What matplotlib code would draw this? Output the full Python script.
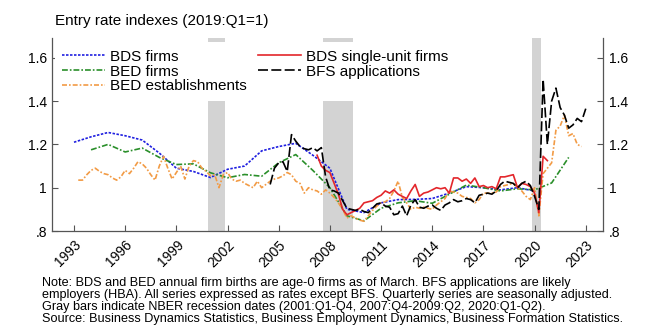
import matplotlib
matplotlib.use("Agg")
import matplotlib.pyplot as plt

plt.rcParams["font.family"] = ["Liberation Sans", "DejaVu Sans"]

# Annual series (index, 2019 = 1)
bds_years = list(range(1993, 2021))
bds_firms = [1.21, 1.235, 1.255, 1.24, 1.22, 1.16, 1.09, 1.075, 1.047, 1.085,
             1.10, 1.17, 1.19, 1.205, 1.15, 1.09, 0.90, 0.885, 0.93, 0.945,
             0.946, 0.95, 0.975, 1.005, 1.0, 0.99, 1.0, 0.985]

bed_years = list(range(1994, 2023))
bed_firms = [1.175, 1.20, 1.165, 1.183, 1.14, 1.107, 1.11, 1.069, 1.046, 1.061,
             1.053, 1.115, 1.153, 1.08, 1.0, 0.87, 0.847, 0.905, 0.93, 0.94,
             0.928, 0.97, 1.012, 1.0, 0.985, 0.995, 0.99, 1.022, 1.14]

# Quarterly series, first quarter given as (year, quarter)
bed_estab_start = (1993, 2)
bed_estab = [1.035, 1.035, 1.06,
             1.08, 1.09, 1.075, 1.065,
             1.06, 1.045, 1.035, 1.05,
             1.08, 1.065, 1.09, 1.12,
             1.11, 1.09, 1.06, 1.035,
             1.10, 1.145, 1.09, 1.04,
             1.07, 1.10, 1.04, 1.10,
             1.125, 1.12, 1.09, 1.075,
             1.055, 1.06, 1.00, 1.06,
             1.07, 1.04, 1.03, 1.035,
             1.02, 1.01, 1.00, 1.03,
             1.00, 1.015, 1.03, 1.04,
             1.045, 1.055, 1.07, 1.06,
             1.03, 1.02, 0.975, 1.0,
             0.99, 0.985, 0.97, 0.99,
             0.975, 0.955, 0.93, 0.90,
             0.86, 0.87, 0.86, 0.85,
             0.845, 0.87, 0.895, 0.915,
             0.93, 0.935, 0.95, 0.985,
             1.03, 0.955, 0.93, 0.90,
             0.91, 0.905, 0.91, 0.905,
             0.90, 0.92, 0.935, 0.95,
             0.985, 0.98, 0.975, 0.96,
             0.955, 0.95, 0.93, 0.945,
             0.975, 0.975, 0.975, 0.98,
             1.005, 1.01, 1.015, 1.02,
             1.0, 0.985, 0.96, 0.945,
             1.0, 0.87, 1.065, 1.09,
             1.115, 1.265, 1.285, 1.335,
             1.24, 1.25, 1.20, 1.19]

bds_su_start = (2007, 2)
bds_single_unit = [1.15, 1.10, 1.08,
                   1.07, 1.02, 0.97, 0.90,
                   0.875, 0.885, 0.895, 0.905,
                   0.93, 0.935, 0.94, 0.955,
                   0.965, 0.985, 0.975, 0.99,
                   0.97, 0.96, 0.95, 0.985,
                   1.015, 0.96, 0.975, 0.98,
                   0.99, 1.0, 0.995, 1.0,
                   0.975, 1.045, 1.045, 1.03,
                   1.04, 1.02, 1.045, 1.005,
                   1.01, 1.0, 1.005, 0.995,
                   1.05, 1.05, 1.055, 1.06,
                   1.0, 1.02, 1.015, 1.005,
                   0.975, 0.885, 1.145, 1.125]

bfs_start = (2004, 3)
bfs_apps = [1.015, 1.09,
            1.115, 1.12, 1.075, 1.245,
            1.215, 1.19, 1.18, 1.175,
            1.185, 1.17, 1.185, 1.05,
            0.99, 0.985, 0.975, 0.94,
            0.905, 0.90, 0.895, 0.90,
            0.89, 0.885, 0.905, 0.925,
            0.93, 0.915, 0.91, 0.875,
            0.88, 0.915, 0.87, 0.92,
            0.945, 0.91, 0.905, 0.915,
            0.92, 0.905, 0.895, 0.92,
            0.93, 0.945, 0.935, 0.94,
            0.95, 0.945, 0.93, 0.965,
            0.97, 0.975, 0.97, 0.985,
            1.015, 1.03, 1.025, 1.02,
            1.0, 1.02, 1.03, 1.01,
            0.96, 0.90, 1.50, 1.20,
            1.40, 1.46, 1.37, 1.335,
            1.275, 1.29, 1.32, 1.305,
            1.365]

# NBER recessions as (first quarter, last quarter)
recessions = [((2001, 1), (2001, 4)), ((2007, 4), (2009, 2)), ((2020, 1), (2020, 2))]

x_ticks = list(range(1993, 2024, 3))
y_ticks = [0.8, 1.0, 1.2, 1.4, 1.6]
y_tick_labels = [".8", "1", "1.2", "1.4", "1.6"]

note = ("Note: BDS and BED annual firm births are age-0 firms as of March. BFS applications are likely\n"
        "employers (HBA). All series expressed as rates except BFS. Quarterly series are seasonally adjusted.\n"
        "Gray bars indicate NBER recession dates (2001:Q1-Q4, 2007:Q4-2009:Q2, 2020:Q1-Q2).\n"
        "Source: Business Dynamics Statistics, Business Employment Dynamics, Business Formation Statistics.")


def qtime(year, q):
    return year + (q - 1) / 4


def quarter_axis(start, n):
    y, q = start
    t0 = qtime(y, q)
    return [t0 + i / 4 for i in range(n)]


fig = plt.figure(figsize=(6.5, 3.33), dpi=100)
ax = fig.add_axes([0.0805, 0.3063, 0.8477, 0.5787])

for (y0, q0), (y1, q1) in recessions:
    ax.axvspan(qtime(y0, q0) - 0.125, qtime(y1, q1) + 0.125,
               color="#d3d3d3", lw=0, zorder=0)

lw = 1.2
ax.plot(bds_years, bds_firms, color="#1f1fe0", lw=lw,
        linestyle=(0, (1.5, 0.9)), label="BDS firms")
ax.plot(bed_years, bed_firms, color="#2a8f2a", lw=lw,
        linestyle=(0, (3.5, 1.2, 1.0, 1.2)), label="BED firms")
ax.plot(quarter_axis(bed_estab_start, len(bed_estab)), bed_estab,
        color="#f29b45", lw=lw, linestyle=(0, (3.0, 1.2, 1.0, 1.2)),
        label="BED establishments")
ax.plot(quarter_axis(bds_su_start, len(bds_single_unit)), bds_single_unit,
        color="#e3262b", lw=lw, label="BDS single-unit firms")
ax.plot(quarter_axis(bfs_start, len(bfs_apps)), bfs_apps,
        color="black", lw=lw, linestyle=(0, (6, 2)),
        label="BFS applications")

ax.set_xlim(1991.73, 2024.03)
ax.set_ylim(0.8, 1.69)
ax.set_xticks(x_ticks)
ax.set_xticklabels([str(t) for t in x_ticks], rotation=45, ha="right",
                   rotation_mode="anchor", fontsize=10)
ax.set_yticks(y_ticks)
ax.set_yticklabels(y_tick_labels, fontsize=10)
ax.tick_params(axis="both", direction="in", length=4, color="#555555",
               right=True, labelright=True, pad=4)
ax.tick_params(axis="x", pad=5)
ax.spines["top"].set_visible(False)
for side in ("left", "right", "bottom"):
    ax.spines[side].set_color("#555555")
    ax.spines[side].set_linewidth(0.9)

leg = ax.legend(ncol=2, loc="upper left", bbox_to_anchor=(0.004, 0.981),
                borderaxespad=0, fontsize=11, handlelength=2.8,
                handletextpad=0.35, labelspacing=0.06, columnspacing=0.7,
                borderpad=0.5, frameon=True, fancybox=False)
leg.get_frame().set_facecolor("white")
leg.get_frame().set_edgecolor("none")
leg.get_frame().set_alpha(1)

fig.text(0.085, 0.937, "Entry rate indexes (2019:Q1=1)", fontsize=11,
         va="center", ha="left")

fig.text(0.064, 0.168, note, fontsize=9.1, va="top", ha="left",
         linespacing=1.0)

fig.savefig("out.png", dpi=100)
